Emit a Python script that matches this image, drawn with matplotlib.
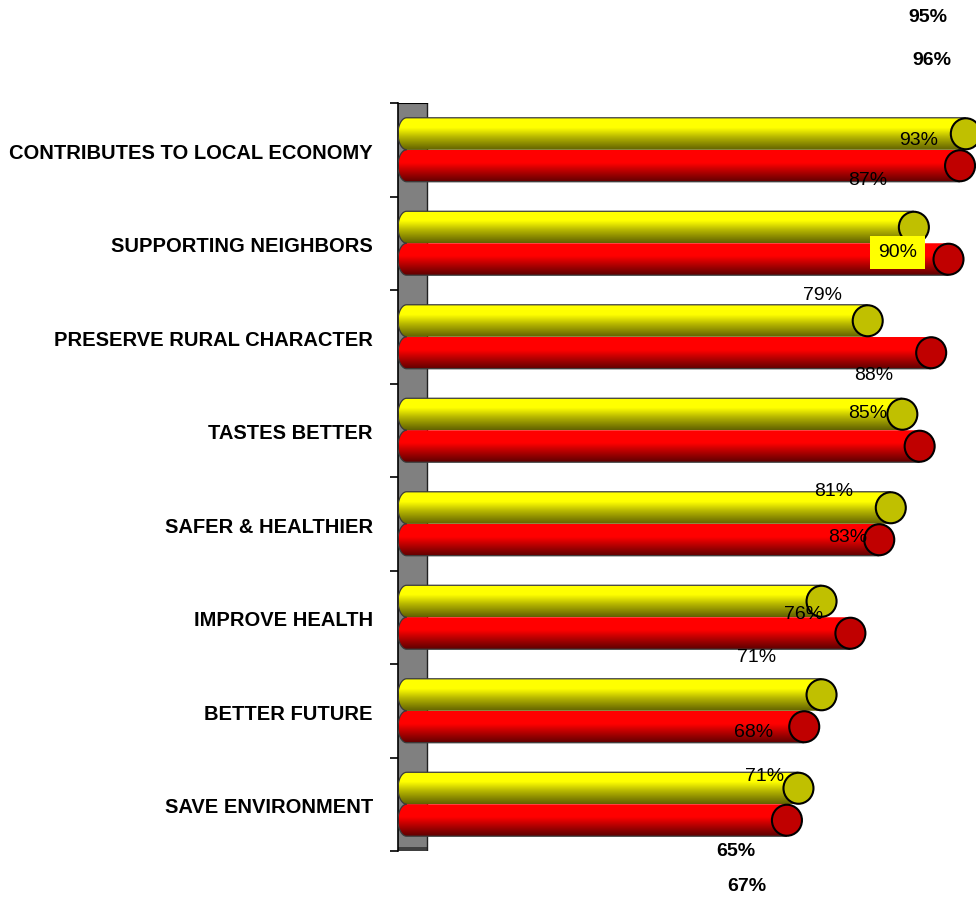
import numpy as np
import matplotlib.pyplot as plt
from matplotlib.patches import Ellipse, Rectangle, PathPatch
from matplotlib.path import Path
from matplotlib.colors import LinearSegmentedColormap

plt.rcParams['font.family'] = ['Liberation Sans', 'DejaVu Sans']

categories = [
    "CONTRIBUTES TO LOCAL ECONOMY",
    "SUPPORTING NEIGHBORS",
    "PRESERVE RURAL CHARACTER",
    "TASTES BETTER",
    "SAFER & HEALTHIER",
    "IMPROVE HEALTH",
    "BETTER FUTURE",
    "SAVE ENVIRONMENT",
]
yellow_vals = [96, 87, 79, 85, 83, 71, 71, 67]
red_vals = [95, 93, 90, 88, 81, 76, 68, 65]

# where the data labels ended up (x in %, y in category units)
yellow_label_xy = [(87.5, -0.95), (76.4, 0.33), (68.5, 1.56), (76.4, 2.82),
                   (73.0, 4.15), (57.2, 5.43), (58.6, 6.70), (55.5, 7.88)]
red_label_xy = [(86.8, -1.41), (85.3, -0.10), (81.6, 1.10), (77.5, 2.41),
                (70.5, 3.65), (65.2, 4.97), (56.7, 6.23), (53.6, 7.51)]
bold_labels = {("y", 0), ("r", 0), ("y", 7), ("r", 7)}
boxed_labels = {("r", 2)}

x_start = -5.0
bar_h = 0.342
cap_w = 5.2
end_r = 1.5

yellow_cmap = LinearSegmentedColormap.from_list(
    "yel", [(0.0, "#ffff00"), (0.3, "#ffff00"), (0.62, "#b0b000"), (1.0, "#626200")])
red_cmap = LinearSegmentedColormap.from_list(
    "red", [(0.0, "#ff0000"), (0.4, "#ff0000"), (0.72, "#a80000"), (1.0, "#600000")])

fig = plt.figure(figsize=(9.76, 8.98), dpi=100)
ax = fig.add_axes([398 / 976, 47 / 898, 605.9 / 976, 748 / 898])


def body_path(x0, x1, y_top, y_bot):
    # flat body with a rounded back end
    yc = (y_top + y_bot) / 2
    t = np.linspace(np.pi / 2, 3 * np.pi / 2, 40)
    xs = x0 + end_r + end_r * np.cos(t)
    ys = yc - (bar_h / 2) * np.sin(t)
    verts = [(x1, y_top)] + list(zip(xs, ys)) + [(x1, y_bot), (x1, y_top)]
    codes = [Path.MOVETO] + [Path.LINETO] * (len(verts) - 2) + [Path.CLOSEPOLY]
    return Path(verts, codes), list(zip(xs, ys))


def cylinder(value, y_top, cmap, cap_color, outline_top):
    y_bot = y_top + bar_h
    yc = y_top + bar_h / 2
    x1 = value - cap_w / 2
    path, curve = body_path(x_start, x1, y_top, y_bot)
    grad = cmap(np.linspace(0, 1, 64))[:, None, :3]
    im = ax.imshow(grad, extent=(x_start, x1, y_bot, y_top), origin="upper",
                   aspect="auto", interpolation="bilinear", zorder=2)
    clip = PathPatch(path, transform=ax.transData, facecolor="none", edgecolor="none")
    ax.add_patch(clip)
    im.set_clip_path(clip)
    # thin outline along the outer side and back end
    if outline_top:
        pts = [(x1, y_top)] + curve
    else:
        pts = curve + [(x1, y_bot)]
    ax.add_patch(PathPatch(Path(pts), facecolor="none", edgecolor="#3a3a3a",
                           lw=0.9, zorder=3))
    ax.add_patch(Ellipse((x1, yc), cap_w, bar_h * 0.97, facecolor=cap_color,
                         edgecolor="black", lw=1.5, zorder=4, clip_on=False))


# grey side wall
ax.add_patch(Rectangle((x_start, -0.5), -x_start, 8, facecolor="#808080",
                       edgecolor="none", zorder=1))
ax.add_patch(Rectangle((x_start, 7.46), -x_start, 0.04, facecolor="#404040",
                       edgecolor="none", zorder=1))
ax.plot([0, 0], [-0.5, 7.5], color="#202020", lw=1.0, zorder=1)
ax.plot([x_start, 0], [-0.5, -0.5], color="black", lw=1.5, zorder=1)

for i in range(len(categories)):
    cylinder(yellow_vals[i], i - bar_h, yellow_cmap, "#c0c000", True)
    cylinder(red_vals[i], i, red_cmap, "#c00000", False)

for key, vals, xy in (("y", yellow_vals, yellow_label_xy), ("r", red_vals, red_label_xy)):
    for i, v in enumerate(vals):
        kw = dict(ha="center", va="center", fontsize=14, color="black",
                  zorder=6, clip_on=False)
        if (key, i) in bold_labels:
            kw["fontweight"] = "bold"
        if (key, i) in boxed_labels:
            kw["bbox"] = dict(boxstyle="square,pad=0.42", facecolor="#ffff00",
                              edgecolor="none")
        ax.text(xy[i][0], xy[i][1], f"{v}%", **kw)

for i, name in enumerate(categories):
    ax.annotate(name, xy=(0, i), xycoords=("axes fraction", "data"),
                xytext=(-18, -1), textcoords="offset points", ha="right",
                va="center_baseline", fontsize=14.5, fontweight="bold")

ax.set_xlim(x_start, 100)
ax.set_ylim(7.5, -0.5)
ax.set_yticks(np.arange(-0.5, 8, 1))
ax.set_yticklabels([])
ax.set_xticks([])
ax.tick_params(axis="y", length=6, width=1.2, color="black")
for side in ("top", "right", "bottom"):
    ax.spines[side].set_visible(False)
ax.spines["left"].set_linewidth(1.2)
ax.patch.set_alpha(0)

fig.savefig("out.png", dpi=100)
